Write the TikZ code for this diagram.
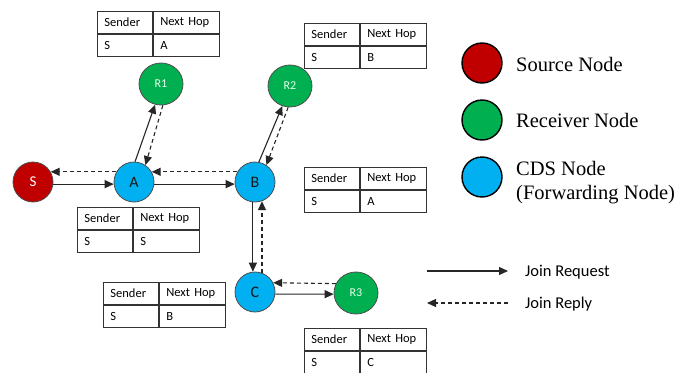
\documentclass[tikz,border=0pt]{standalone}
\usepackage{fontspec}
\setmainfont{Carlito}
\newfontfamily\legendserif{Liberation Serif}
\usetikzlibrary{arrows.meta,shapes.geometric}

\definecolor{srcred}{HTML}{C00000}
\definecolor{rcvgreen}{HTML}{00B050}
\definecolor{cdsblue}{HTML}{00B0F0}
\definecolor{nodeedge}{HTML}{4D4D4D}
\definecolor{tabedge}{HTML}{333333}

% routing table: name, top-left x, top-left y, next hop
\newcommand\hoptable[4]{%
  \node[cellL, anchor=north west] (#1-s) at (#2,#3) {Sender};
  \node[cellR, anchor=north west] (#1-n) at (#1-s.north east) {Next Hop};
  \node[cellL, anchor=north west] (#1-sv) at (#1-s.south west) {S};
  \node[cellR, anchor=north west] (#1-nv) at (#1-s.south east) {#4};
}

\begin{document}
\begin{tikzpicture}[x=1pt,y=-1pt,
  netnode/.style={circle, draw=nodeedge, line width=0.8pt, minimum size=40pt, inner sep=0pt,
    font=\fontsize{16}{18}\selectfont},
  cds/.style={netnode, fill=cdsblue, text=black!90},
  src/.style={netnode, fill=srcred, text=white, font=\fontsize{15}{17}\selectfont},
  rcv/.style={ellipse, draw=nodeedge, line width=0.8pt, minimum width=44pt, minimum height=42pt,
    inner sep=0pt, fill=rcvgreen, text=white!92!green, font=\fontsize{12}{14}\selectfont},
  legcircle/.style={circle, draw=black, line width=1.4pt, minimum size=40pt, inner sep=0pt},
  legtext/.style={anchor=base west, inner sep=0pt, font=\legendserif\fontsize{20.5}{24}\selectfont},
  keytext/.style={anchor=base west, inner sep=0pt, font=\fontsize{16.5}{19}\selectfont},
  cell/.style={draw=tabedge, line width=0.9pt, minimum height=22pt, inner xsep=7pt, inner ysep=0pt,
    align=left, font=\fontsize{12.5}{14}\selectfont},
  cellL/.style={cell, text width=41pt},
  cellR/.style={cell, text width=52pt},
  req/.style={draw=black!85, line width=1.1pt, -{Triangle[length=9pt,width=8pt]}},
  rep/.style={req, dash pattern=on 4pt off 3pt}]

\useasboundingbox (0,0) rectangle (685,372);

% network nodes
\node[src] (S) at (33,182) {S};
\node[cds] (A) at (134,182) {A};
\node[cds] (B) at (255,182) {B};
\node[cds] (C) at (255,292) {C};
\node[rcv] (R1) at (161,84) {R1};
\node[rcv] (R2) at (290,86) {R2};
\node[rcv] (R3) at (356,293) {R3};

% join requests
\draw[req] (S.-6) -- (A.186);
\draw[req] (A.-6) -- (B.186);
\draw[req] (A.87) -- (R1.254);
\draw[req] (B.79) -- (R2.249);
\draw[req] (B.264) -- (C.96);
\draw[req] (C.-6) -- (R3.183);

% join replies
\draw[rep] (A.150) -- (S.30);
\draw[rep] (B.150) -- (A.30);
\draw[rep] (R1.275) -- (A.56);
\draw[rep] (R2.265) -- (B.56);
\draw[rep] (C.70) -- (B.290);
\draw[rep] (R3.155) -- (C.27);

% routing tables
\hoptable{tR1}{97}{11}{A}
\hoptable{tR2}{304}{23}{B}
\hoptable{tB}{304}{167}{A}
\hoptable{tA}{77}{207}{S}
\hoptable{tC}{103}{282}{B}
\hoptable{tR3}{304}{328}{C}

% node legend
\node[legcircle, fill=srcred] (kS) at (482,63) {};
\node[legcircle, fill=rcvgreen] (kR) at (482,120) {};
\node[legcircle, fill=cdsblue] (kC) at (482,177) {};
\node[legtext] (kSt) at (516,71) {Source Node};
\node[legtext] (kRt) at (516,127) {Receiver Node};
\node[legtext] (kCt) at (516,175) {CDS Node};
\node[legtext] (kFt) at (516,199) {(Forwarding Node)};

% arrow legend
\coordinate (q1) at (427,271);
\coordinate (q2) at (508,271);
\coordinate (p1) at (508,303);
\coordinate (p2) at (427,303);
\draw[req] (q1) -- (q2);
\draw[rep] (p1) -- (p2);
\node[keytext] (kq) at (525,276) {Join Request};
\node[keytext] (kp) at (525,308) {Join Reply};

\end{tikzpicture}
\end{document}
